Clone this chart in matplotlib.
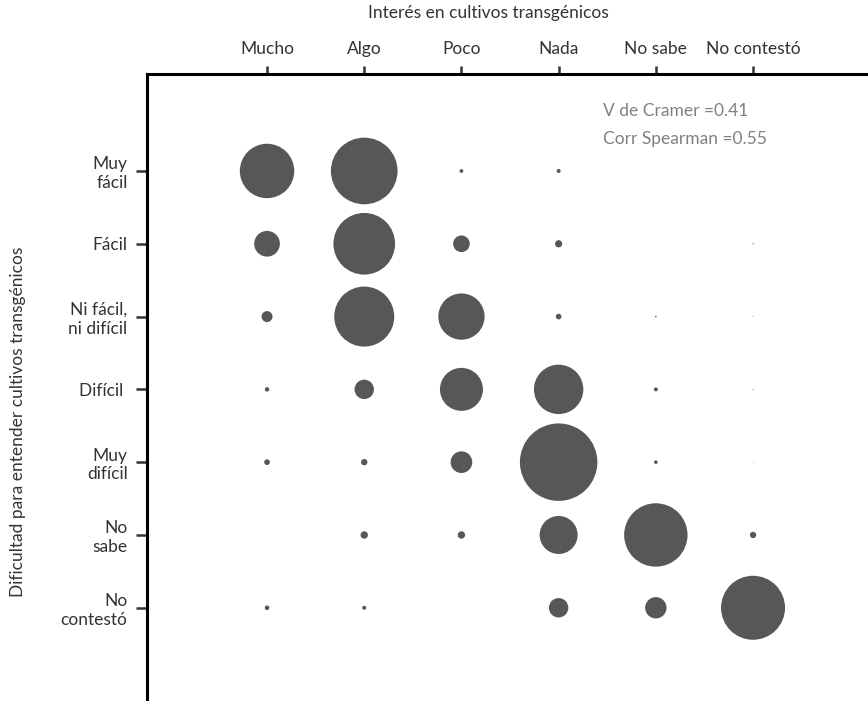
import matplotlib.pyplot as plt
import numpy as np

plt.rcParams['font.family'] = ['Lato', 'DejaVu Sans']

# categories
interes = ["Mucho", "Algo", "Poco", "Nada", "No sabe", "No contestó"]
dificultad = ["Muy\nfácil", "Fácil", "Ni fácil,\nni difícil", "Difícil ",
              "Muy\ndifícil", "No\nsabe", "No\ncontestó"]

# bubble areas (relative), one row per dificultad, one column per interes
muy_facil = [740, 1110, 3.5, 4, 0, 0]
facil = [165, 950, 69, 13, 0, 0.35]
ni_facil = [30, 900, 535, 8, 0.6, 0.16]
dificil = [5, 94, 462, 610, 4, 0.25]
muy_dificil = [8, 10, 117, 1500, 3.2, 0.1]
no_sabe = [0, 13.7, 13.7, 361, 1005, 10]
no_contesto = [5.3, 4, 0, 94, 114, 1024]

tabla = np.array([muy_facil, facil, ni_facil, dificil, muy_dificil, no_sabe, no_contesto])

fig = plt.figure(figsize=(8.68, 7.01), dpi=100)
# axes runs past the right and bottom edges of the figure
ax = fig.add_axes([147/868, -29/701, 753/868, 656/701])

xx, yy = np.meshgrid(np.arange(len(interes)), np.arange(len(dificultad)))
ax.scatter(xx.ravel(), yy.ravel(), s=tabla.ravel() * 2.0736,
           color='#575757', linewidths=0)

ax.set_xlim(-1.235, 6.512)
ax.set_ylim(7.679, -1.332)

ax.xaxis.tick_top()
ax.set_xticks(range(len(interes)))
ax.set_xticklabels(interes)
ax.set_yticks(range(len(dificultad)))
ax.set_yticklabels(dificultad, multialignment='right')

for side in ['right', 'bottom']:
    ax.spines[side].set_visible(False)
for side in ['left', 'top']:
    ax.spines[side].set_linewidth(2.2)
ax.tick_params(axis='x', length=6, width=1.8, pad=6, labelsize=12.5, colors='#333333')
ax.tick_params(axis='y', length=8, width=1.8, pad=6, labelsize=12.5, colors='#333333')

fig.text(488/868, 1 - 13/701, "Interés en cultivos transgénicos", ha='center', va='center',
         fontsize=12.5, color='#333333')
fig.text(18/868, 1 - 422/701, "Dificultad para entender cultivos transgénicos", ha='center',
         va='center', rotation=90, fontsize=12.5, color='#333333')

ax.text(3.456, -0.82, "V de Cramer =0.41", ha='left', va='center', fontsize=12.5, color='#808080')
ax.text(3.456, -0.44, "Corr Spearman =0.55", ha='left', va='center', fontsize=12.5, color='#808080')

fig.savefig('out.png', dpi=100)
